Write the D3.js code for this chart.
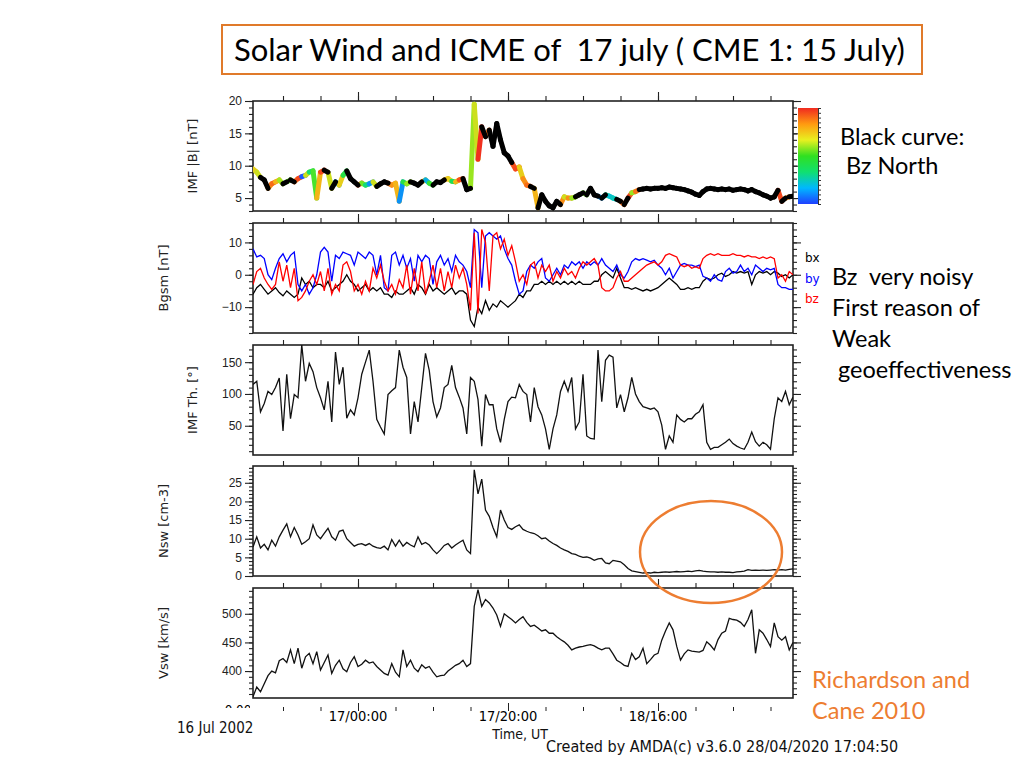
<!DOCTYPE html>
<html>
<head>
<meta charset="utf-8">
<script src="https://cdn.jsdelivr.net/npm/d3@7"></script>
<style>
  body { margin: 0; background: #fff; }
  svg { display: block; }
</style>
</head>
<body>
<div id="chart"></div>
<script>
// samples every 30 min starting 16 Jul 2002 10:00 UT
const startTime = Date.UTC(2002, 6, 16, 10);
const endTime = Date.UTC(2002, 6, 19, 10);
const stepMs = 30 * 60 * 1000;

const imfB = [
  9.5, 9.0, 8.2, 7.8, 6.5, 7.2, 7.5, 7.8, 7.2, 7.5,
  7.8, 7.5, 8.0, 8.3, 8.5, 9.0, 9.2, 5.0, 9.0, 9.3,
  9.0, 6.5, 7.5, 7.0, 8.5, 9.2, 8.0, 7.5, 7.0, 7.3,
  7.0, 7.2, 7.5, 6.8, 7.2, 7.5, 7.3, 7.0, 7.3, 4.5,
  7.5, 7.2, 7.5, 7.3, 7.0, 7.5, 7.8, 7.3, 7.0, 7.5,
  7.4, 7.8, 8.0, 7.6, 7.5, 7.8, 8.0, 6.3, 6.5, 19.5,
  11.0, 16.0, 14.5, 15.5, 13.0, 16.5, 14.0, 12.0, 11.5, 10.5,
  9.5, 9.8, 8.0, 7.0, 6.8, 6.5, 3.5, 5.5, 4.5, 3.8,
  3.5, 4.5, 4.0, 5.2, 5.0, 5.0, 5.2, 5.5, 5.8, 5.5,
  6.5, 5.5, 5.3, 5.0, 5.5, 5.3, 5.0, 4.8, 4.5, 4.0,
  5.0, 5.8, 6.0, 6.3, 6.4, 6.5, 6.4, 6.5, 6.5, 6.6,
  6.5, 6.7, 6.6, 6.5, 6.4, 6.3, 6.1, 5.9, 5.6, 5.4,
  6.0, 6.4, 6.5, 6.4, 6.3, 6.4, 6.3, 6.4, 6.2, 6.3,
  6.4, 6.3, 6.1, 6.3, 6.0, 5.8, 5.5, 5.3, 5.0, 5.2,
  6.2, 4.5, 5.0, 5.2, 5.3
];

const bx = [
  -6, -4, -3, -4.5, -6, -5, -4, -5.5, -6.5, -5,
  -6, -7, -6, -1, -3, -2, -4, -3, -3, -4,
  -2, -5, -4, -3, -2, 0, -2, -3, -5, -4,
  -3, -5, -4, -5, -4, -6, -6, -7, -5, -6,
  -6, -5, -4, -6, -3, -4, -6, -3, -5, -4,
  -5, -6, -5, -4, -6, -5, -5, -6, -14, -16,
  -10, -12, -8, -11, -9, -10, -8, -9, -10, -9,
  -8, -6, -7, -5, -5, -3, -3, -2, -3, -2,
  -3, -2, -3, -2, -3, -2, -3, -2, -3, -3,
  -3, -2, -2, 0, 1, 0, -1, 2, -1, -4,
  -4, -4.5, -4, -4.5, -5, -4.5, -5, -4.5, -4, -3,
  -2, -1, -2, -3, -4.5, -4.5, -4, -4.5, -4, -4,
  -2, -1, -1.5, -1, 0, 0.5, -0.5, 0, 1, 0.5,
  1, 0.5, 1, -3, 0, 1, 0.5, 1, 0, 1,
  0.5, -0.5, 0, -1, 0
];

const by = [
  8, 5.5, 6, 5, 0, -1.5, 2, 5, 6.5, 4,
  6, 7, -3, -5, -3, -6, -4, 0, 7, 8.5,
  7, -2, 6, 5, 7, 6.5, 6, 3, 7, 6,
  5, 7, 6, 0, 6, -4, -5, 6, 7, 3,
  6, 2, 5, -2, 6, 4, 6, 5, -3, 4,
  6, 3, 5, 1, 6, 4, 3, 1, -4, 14,
  13, -4, 12, 13, 12, 11, 12, 8, 5, 3,
  -2, -6, -5, 1, 3, 2, 4, 5, -1, -2,
  0, 2, 0, 3, 2, 4, 3, 4, 2, 4,
  3, 4, 3, 5, 3, 2, 1, 3, 0, -1,
  1, 4, 5, 4.5, 5, 4.5, 4, 4.5, 3, 2,
  0, 2, -1, 1, 3, 3.5, 3, 3, 2.5, 3,
  -0.5, -1, -2, 0, -1.5, -2, 1, 2, 0.5, 1,
  3, 1, 2, 0, 3, 2, 1, 2, 1.5, 2,
  -3, -4, -4, -4.5, -4.5
];

const bz = [
  -3, 1, 2, -1, -3, -4.5, -3, 4, -2, 3,
  -4, 2, -8, -7, -5, -2, 0, -3, 1, -5,
  2, -6, -3, -5, 3, 4, 1, -5, -3, -6,
  -2, -5, 2, -1, 3, -2, -5, -3, -6, -1.5,
  -4, 3, -6, 2, -5, 4, -6, -2, 3, -4,
  2, -5, 1, -4, 3, -1, 2, -3, -11, 13,
  -12, 14, 10, -5, 12, 13, 8, 11, 6, 9,
  4, -2, 0, -3, 3, 4, -1, 3, 1, 3,
  -2, 1, -1, 2, 0, 1, -1, 2, 4, 3,
  4, 5, 3, -4, -5, -5, -4, -1, 1, -2,
  -2, -1, 0, 1, 2, 3, 3.5, 4, 3, 4,
  6, 6.5, 6, 5.5, 3, 2.5, 3, 2, 2.5, 2,
  5, 6, 6.5, 6, 6.5, 6, 6, 6, 6.5, 6,
  6, 5.5, 6, 5.5, 5.5, 5, 5.5, 5, 5.5, 5,
  -1, 0, -2, 1, 0
];

const imfTheta = [
  115, 120, 72, 85, 104, 99, 110, 125, 42, 131,
  61, 99, 94, 177, 120, 148, 135, 110, 94, 75,
  120, 56, 166, 115, 142, 62, 75, 67, 94, 131,
  150, 169, 120, 60, 48, 37, 99, 105, 110, 169,
  142, 126, 37, 88, 56, 110, 164, 137, 88, 64,
  78, 110, 115, 145, 110, 95, 78, 37, 126, 120,
  91, 18, 99, 83, 83, 45, 24, 60, 88, 95,
  94, 115, 104, 99, 56, 110, 80, 67, 45, 13,
  45, 67, 104, 120, 104, 126, 45, 56, 131, 34,
  30, 29, 169, 88, 153, 161, 158, 78, 99, 72,
  94, 126, 100, 88, 80, 78, 76, 78, 72, 51,
  13, 34, 24, 67, 60, 56, 61, 61, 68, 72,
  83, 24, 13, 16, 16, 20, 24, 29, 22, 18,
  15, 13, 24, 40, 25, 18, 24, 20, 13, 61,
  94, 88, 104, 83, 95
];

const nsw = [
  7.8, 10.5, 7.5, 8.5, 7.0, 9.6, 8.0, 10.5, 12.3, 14.0,
  10.5, 13.0, 11.0, 8.5, 9.2, 10.0, 13.7, 11.0, 10.0, 11.4,
  12.8, 10.5, 9.6, 12.0, 12.3, 10.0, 9.0, 8.0, 8.5, 8.7,
  8.2, 8.7, 8.0, 7.6, 7.4, 8.0, 7.0, 9.8, 8.0, 9.6,
  8.0, 9.0, 8.3, 7.8, 10.5, 8.5, 9.0, 8.3, 7.0, 6.0,
  7.0, 8.2, 8.7, 7.5, 8.3, 9.0, 9.6, 7.0, 6.0, 28.5,
  22.0, 26.0, 17.7, 16.0, 13.0, 10.5, 17.7, 15.0, 13.0, 12.5,
  13.2, 13.7, 12.5, 12.0, 11.6, 11.4, 10.8, 10.0, 10.2, 9.4,
  8.7, 8.2, 7.5, 7.0, 6.6, 6.0, 5.8, 5.3, 5.0, 5.1,
  4.8, 4.2, 4.6, 4.7, 3.5, 3.3, 4.2, 4.0, 3.8, 3.0,
  2.0, 1.4, 1.2, 1.0, 0.8, 0.9, 0.8, 1.0, 0.9, 1.0,
  1.1, 1.0, 1.1, 1.2, 1.1, 1.2, 1.3, 1.2, 1.4, 1.5,
  1.3, 1.2, 1.1, 1.1, 1.0, 1.1, 1.0, 1.0, 0.9, 1.1,
  1.2, 1.3, 1.7, 1.5, 1.6, 1.5, 1.6, 1.5, 1.6, 1.7,
  1.6, 1.7, 1.6, 1.8, 1.9
];

const vsw = [
  355, 372, 364, 378, 392, 400, 397, 418, 422, 415,
  437, 413, 440, 405, 425, 431, 413, 434, 402, 415,
  428, 396, 410, 419, 404, 399, 415, 425, 408, 412,
  419, 414, 416, 408, 402, 396, 393, 413, 398, 390,
  437, 408, 419, 405, 399, 411, 405, 408, 398, 390,
  392, 393, 400, 405, 410, 413, 419, 408, 413, 513,
  542, 513, 525, 519, 510, 498, 478, 500, 495, 490,
  484, 490, 495, 485, 478, 480, 475, 470, 472, 466,
  466, 460, 455, 451, 445, 437, 440, 442, 443, 445,
  446, 444, 440, 437, 440, 440, 430, 419, 415, 410,
  408, 431, 420, 425, 440, 413, 420, 428, 431, 454,
  470, 484, 472, 443, 419, 430, 437, 435, 434, 433,
  436, 451, 445, 437, 455, 466, 470, 492, 490, 489,
  485, 478, 490, 507, 431, 472, 466, 455, 443, 484,
  460, 454, 460, 437, 450
];

// time axis: labelled ticks every 20 h, small ticks every 5 h
const majorTimes = [Date.UTC(2002, 6, 17, 0), Date.UTC(2002, 6, 17, 20), Date.UTC(2002, 6, 18, 16)];
const minorTimes = d3.range(Date.UTC(2002, 6, 16, 14), endTime, 5 * 3600 * 1000);

const bLabels = ["bx", "by", "bz"];
const bColors = ["#000000", "#0000ff", "#ff0000"];
const jetColors = ["#1f3fff", "#00b8ff", "#10e070", "#30e020", "#e8f020", "#ff9a10", "#f02a20"];

const width = 1024, height = 768;
const svg = d3.select("#chart").append("svg")
  .attr("width", width)
  .attr("height", height)
  .style("font-family", "DejaVu Sans, sans-serif");

const x = d3.scaleUtc().domain([startTime, endTime]).range([253, 793]);
const timeOf = i => startTime + i * stepMs;

const panelH = 110;
const panels = [
  { top: 101, domain: [3, 20], major: [5, 10, 15, 20], minorStep: 1, title: "IMF |B| [nT]", titleX: 197 },
  { top: 223, domain: [-18, 16], major: [-10, 0, 10], minorStep: 2, title: "Bgsm [nT]", titleX: 168 },
  { top: 345, domain: [4, 177], major: [50, 100, 150], minorStep: 10, title: "IMF Th. [°]", titleX: 197 },
  { top: 466, domain: [0, 29.5], major: [0, 5, 10, 15, 20, 25], minorStep: 1, title: "Nsw [cm-3]", titleX: 168 },
  { top: 588, domain: [353, 545], major: [400, 450, 500], minorStep: 10, title: "Vsw [km/s]", titleX: 168 }
];

const defs = svg.append("defs");

panels.forEach((p, k) => {
  p.y = d3.scaleLinear().domain(p.domain).range([p.top + panelH, p.top]);
  const minor = d3.range(Math.ceil(p.domain[0] / p.minorStep) * p.minorStep, p.domain[1] + 1e-9, p.minorStep);

  defs.append("clipPath").attr("id", "clip" + k)
    .append("rect").attr("x", 253).attr("y", p.top).attr("width", 540).attr("height", panelH);

  const g = svg.append("g").attr("class", "panel");

  // y axes, left with labels, right mirrored
  g.append("g").attr("transform", "translate(253,0)")
    .call(d3.axisLeft(p.y).tickValues(minor).tickSize(4).tickFormat(""));
  g.append("g").attr("transform", "translate(253,0)")
    .call(d3.axisLeft(p.y).tickValues(p.major).tickSize(8).tickPadding(3))
    .selectAll("text").style("font-size", "12px").attr("fill", "#222");
  g.append("g").attr("transform", "translate(793,0)")
    .call(d3.axisRight(p.y).tickValues(minor).tickSize(4).tickFormat(""));
  g.append("g").attr("transform", "translate(793,0)")
    .call(d3.axisRight(p.y).tickValues(p.major).tickSize(8).tickFormat(""));

  // time ticks on top of the panel
  g.append("g").attr("transform", `translate(0,${p.top})`)
    .call(d3.axisTop(x).tickValues(minorTimes).tickSize(5).tickFormat(""));
  g.append("g").attr("transform", `translate(0,${p.top})`)
    .call(d3.axisTop(x).tickValues(majorTimes).tickSize(9).tickFormat(""));

  g.selectAll(".domain").remove();
  g.selectAll("line").attr("stroke", "#222").attr("stroke-width", 1.1);

  g.append("rect")
    .attr("x", 253).attr("y", p.top).attr("width", 540).attr("height", panelH)
    .attr("fill", "none").attr("stroke", "#222").attr("stroke-width", 1.6);

  svg.append("text")
    .attr("transform", `translate(${p.titleX},${p.top + panelH / 2}) rotate(-90)`)
    .attr("text-anchor", "middle")
    .style("font-size", "13px")
    .attr("fill", "#222")
    .text(p.title);
});

const line = (yScale, values) => d3.line()
  .x((d, i) => x(timeOf(i)))
  .y(d => yScale(d))(values);

// panel 1: |B| black while the field points north (theta < 90), coloured by theta otherwise
const jet = d3.interpolateRgbBasis(jetColors);
const bColor = th => th < 90 ? "#000" : jet(Math.max(0, Math.min(1, (180 - th) / 90)));
const segs = d3.range(imfB.length - 1).map(i => ({ i, c: bColor(imfTheta[i]) }));
const p1 = svg.append("g").attr("clip-path", "url(#clip0)");
[segs.filter(s => s.c !== "#000"), segs.filter(s => s.c === "#000")].forEach(set => {
  p1.selectAll(null)
    .data(set)
    .enter()
    .append("line")
      .attr("x1", s => x(timeOf(s.i)))
      .attr("y1", s => panels[0].y(imfB[s.i]))
      .attr("x2", s => x(timeOf(s.i + 1)))
      .attr("y2", s => panels[0].y(imfB[s.i + 1]))
      .attr("stroke", s => s.c)
      .attr("stroke-width", 5)
      .attr("stroke-linecap", "round");
});

// panel 2: GSM components
const p2 = svg.append("g").attr("clip-path", "url(#clip1)");
[bx, by, bz].forEach((vals, k) => {
  p2.append("path")
    .attr("d", line(panels[1].y, vals))
    .attr("fill", "none")
    .attr("stroke", bColors[k])
    .attr("stroke-width", 1.3);
});

// panels 3-5
[[imfTheta, 2], [nsw, 3], [vsw, 4]].forEach(([vals, k]) => {
  svg.append("g").attr("clip-path", `url(#clip${k})`)
    .append("path")
      .attr("d", line(panels[k].y, vals))
      .attr("fill", "none")
      .attr("stroke", "#111")
      .attr("stroke-width", 1.3);
});

// legend of panel 2
svg.selectAll(".blabel")
  .data(bLabels)
  .enter()
  .append("text")
    .attr("x", 805)
    .attr("y", (d, i) => 262 + i * 20.5)
    .attr("fill", (d, i) => bColors[i])
    .style("font-size", "12px")
    .text(d => d);

// colour bar
const grad = defs.append("linearGradient").attr("id", "jet")
  .attr("x1", 0).attr("y1", 1).attr("x2", 0).attr("y2", 0);
jetColors.forEach((c, i) => grad.append("stop")
  .attr("offset", i / (jetColors.length - 1)).attr("stop-color", c));
svg.append("rect")
  .attr("x", 798).attr("y", 108).attr("width", 20).attr("height", 96)
  .attr("fill", "url(#jet)");
const cb = d3.scaleLinear().domain([0, 1]).range([204, 108]);
svg.append("g").attr("transform", "translate(818,0)")
  .call(d3.axisRight(cb).ticks(16).tickSize(3).tickFormat(""))
  .call(g => g.select(".domain").attr("stroke", "#333"))
  .selectAll("line").attr("stroke", "#333");

// time axis labels under the last panel
const cond = "DejaVu Sans Condensed, DejaVu Sans";
const ta = svg.append("g").attr("transform", "translate(0,711)");
ta.append("g").call(d3.axisTop(x).tickValues(minorTimes).tickSize(4).tickFormat(""));
ta.append("g").call(d3.axisTop(x).tickValues(majorTimes).tickSize(8).tickFormat(""));
ta.selectAll(".domain").remove();
ta.selectAll("line").attr("stroke", "#222");
svg.selectAll(".tlabel")
  .data(majorTimes)
  .enter()
  .append("text")
    .attr("x", d => x(d))
    .attr("y", 721)
    .attr("text-anchor", "middle")
    .style("font-size", "14.5px")
    .style("font-stretch", "condensed")
    .style("font-family", cond)
    .text(d => d3.utcFormat("%d/%H:%M")(d));

const small = (t, xx, yy, size, anchor) => svg.append("text")
  .attr("x", xx).attr("y", yy)
  .attr("text-anchor", anchor || "start")
  .style("font-size", size + "px")
  .style("font-family", cond)
  .attr("fill", "#111")
  .text(t);
small("16 Jul 2002", 177, 733, 15);
small("Time, UT", 520, 739, 14, "middle");
small("Created by AMDA(c) v3.6.0 28/04/2020 17:04:50", 546, 752, 16);

// half hidden label below the last panel
defs.append("clipPath").attr("id", "cut").append("rect")
  .attr("x", 200).attr("y", 700).attr("width", 50).attr("height", 8);
svg.append("text")
  .attr("x", 238).attr("y", 714)
  .attr("text-anchor", "middle")
  .attr("clip-path", "url(#cut)")
  .style("font-size", "12px")
  .text("0.00");

// slide annotations
const note = "Lato, Open Sans, sans-serif";
svg.append("rect")
  .attr("x", 222).attr("y", 25).attr("width", 700).attr("height", 49)
  .attr("fill", "#fff").attr("stroke", "#e07a2a").attr("stroke-width", 2);
svg.append("text")
  .attr("x", 234).attr("y", 61)
  .style("font-family", note).style("font-size", "31px")
  .style("white-space", "pre")
  .text("Solar Wind and ICME of  17 july ( CME 1: 15 July)");

const notes = [
  ["Black curve:", 840, 145], [" Bz North", 840, 174],
  ["Bz  very noisy", 832, 285], ["First reason of", 832, 316],
  ["Weak", 832, 347], [" geoeffectiveness", 832, 378]
];
svg.selectAll(".note")
  .data(notes)
  .enter()
  .append("text")
    .attr("x", d => d[1]).attr("y", d => d[2])
    .style("font-family", note).style("font-size", "23.5px")
    .style("white-space", "pre")
    .text(d => d[0]);

svg.selectAll(".ref")
  .data([["Richardson and", 812, 688], ["Cane 2010", 812, 719]])
  .enter()
  .append("text")
    .attr("x", d => d[1]).attr("y", d => d[2])
    .attr("fill", "#ed7d31")
    .style("font-family", note).style("font-size", "23.5px")
    .text(d => d[0]);

svg.append("ellipse")
  .attr("cx", 711).attr("cy", 552).attr("rx", 71).attr("ry", 51)
  .attr("fill", "none").attr("stroke", "#ed7d31").attr("stroke-width", 2.5);
</script>
</body>
</html>
